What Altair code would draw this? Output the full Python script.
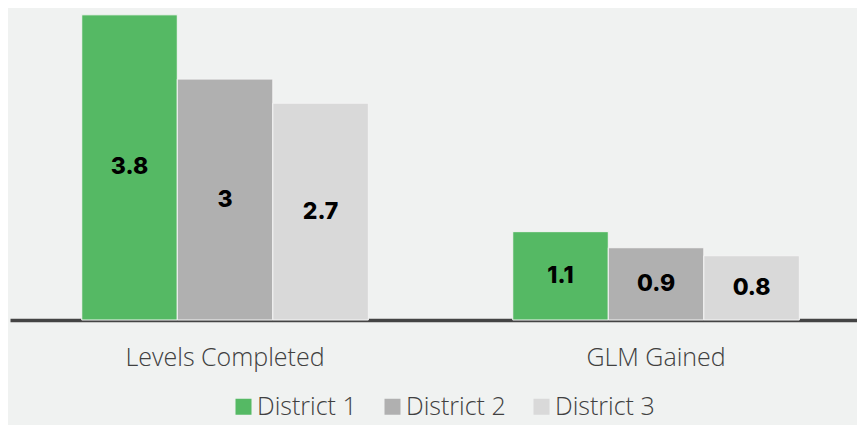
import altair as alt
import pandas as pd

categories = ["Levels Completed", "GLM Gained"]
districts = ["District 1", "District 2", "District 3"]
levels_completed = [3.8, 3, 2.7]
glm_gained = [1.1, 0.9, 0.8]
colors = ["#55b964", "#b0b0b0", "#d9d9d9"]

rows = []
for cat, vals in zip(categories, [levels_completed, glm_gained]):
    for d, v in zip(districts, vals):
        rows.append({"category": cat, "district": d, "value": v})
df = pd.DataFrame(rows)

x = alt.X("category:N", sort=categories, title=None,
          scale=alt.Scale(paddingInner=0.335, paddingOuter=0.1501, align=0.5545),
          axis=alt.Axis(labelAngle=0, ticks=False, domainColor="#444444", domainWidth=3.5,
                        labelFont="Open Sans", labelFontWeight=300, labelFontSize=25,
                        labelColor="#404040", labelPadding=25, labelLimit=0, grid=False))
xo = alt.XOffset("district:N", sort=districts, scale=alt.Scale(paddingInner=0, paddingOuter=0))
y = alt.Y("value:Q", axis=None, scale=alt.Scale(domain=[0, 3.885], nice=False, zero=True))

bars = alt.Chart(df).mark_bar(stroke="#f4f4f4", strokeWidth=1).encode(
    x=x, xOffset=xo, y=y,
    color=alt.Color("district:N", sort=districts,
                    scale=alt.Scale(domain=districts, range=colors),
                    legend=alt.Legend(title=None, orient="none", direction="horizontal",
                                      legendX=221, legendY=386, symbolType="square",
                                      symbolSize=256, symbolStrokeWidth=0,
                                      labelFont="Open Sans", labelFontWeight=300, labelFontSize=25,
                                      labelColor="#404040", columnPadding=23, labelOffset=1,
                                      labelLimit=0)),
)

labels = alt.Chart(df).transform_calculate(mid="datum.value / 2").mark_text(
    font="Inter", fontWeight=800, fontSize=23, color="#000000", baseline="middle"
).encode(x=x, xOffset=xo, y=alt.Y("mid:Q", axis=None, scale=alt.Scale(domain=[0, 3.885], nice=False)),
         text=alt.Text("value:Q"))

chart = alt.layer(bars, labels).properties(
    width=847, height=312,
    autosize=alt.AutoSizeParams(type="none"),
    padding={"left": 2, "top": 0, "right": 0, "bottom": 110},
    background="#f0f2f1",
).configure_view(stroke=None)

chart.save("out.html", embed_options={"renderer": "svg", "actions": False})
